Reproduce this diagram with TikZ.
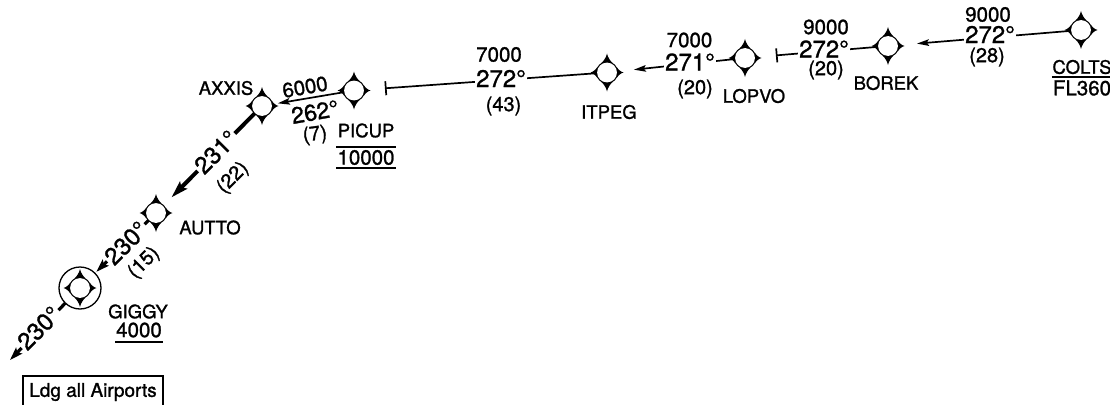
\documentclass[tikz,border=0pt]{standalone}
\usepackage{fontspec}
\setmainfont{TeX Gyre Heros}[FakeBold=1.2]
\usetikzlibrary{arrows.meta}
\begin{document}
\begin{tikzpicture}[x=1pt,y=-1pt,
  fix/.style={circle,inner sep=0pt,minimum size=20pt},
  leg/.style={line width=1.7pt},
  legarrow/.style={leg,-{Stealth[length=12pt,width=6.5pt,inset=2pt]}},
  legbar/.style={leg,-{Bar[width=14pt]}},
  heavy/.style={line width=4pt,-{Stealth[length=17pt,width=10pt,inset=3pt]}},
  medium/.style={line width=3.2pt,-{Stealth[length=13pt,width=8.5pt,inset=2.5pt]}},
  fixname/.style={font=\fontsize{18.5}{20}\selectfont,inner sep=0pt},
  alt/.style={font=\fontsize{20.5}{22}\selectfont,inner sep=0pt},
  crs/.style={font=\fontsize{24}{26}\selectfont,inner sep=1.5pt,fill=white},
  crsplain/.style={font=\fontsize{23}{25}\selectfont,inner sep=0pt},
  dist/.style={font=\fontsize{20}{22}\selectfont,inner sep=0pt},
  altbar/.style={line width=1.4pt},
  notebox/.style={draw,line width=1.3pt,font=\fontsize{19}{21}\selectfont,
    minimum width=140pt,minimum height=32pt,inner sep=0pt},
]
\useasboundingbox (0,0) rectangle (1110,404);

% fixes
\node[fix] (COLTS) at (1081,30) {};
\node[fix] (BOREK) at (888,46) {};
\node[fix] (LOPVO) at (745,58) {};
\node[fix] (ITPEG) at (607,72.5) {};
\node[fix] (PICUP) at (354,90.5) {};
\node[fix] (AXXIS) at (262,106) {};
\node[fix] (AUTTO) at (156,213) {};
\node[fix] (GIGGY) at (80,288) {};
\coordinate (exit) at (10,360);

% legs
\draw[legarrow, shorten >=29pt] (COLTS.center) -- (BOREK.center);
\draw[legbar, shorten >=31pt] (BOREK.center) -- (LOPVO.center);
\draw[legarrow, shorten >=27pt] (LOPVO.center) -- (ITPEG.center);
\draw[legbar, shorten >=31pt] (ITPEG.center) -- (PICUP.center);
\draw[legarrow, shorten >=16pt] (PICUP.center) -- (AXXIS.center);
\draw[heavy, shorten >=22pt] (AXXIS.center) -- (AUTTO.center);
\draw[medium, shorten >=23pt] (AUTTO.center) -- (GIGGY.center);
\draw[medium] (GIGGY.center) -- (exit);

% leg labels
\node[alt]  (a1) at (988,14.5) {9000};
\node[crs]  (c1) at (990,34.5) {272°};
\node[dist] (d1) at (987,57) {(28)};

\node[alt]  (a2) at (826,27) {9000};
\node[crs]  (c2) at (824,49) {272°};
\node[dist] (d2) at (826,70) {(20)};

\node[alt]  (a3) at (689.5,40) {7000};
\node[crs]  (c3) at (690,62) {271°};
\node[dist] (d3) at (695,89) {(20)};

\node[alt]  (a4) at (499,54.5) {7000};
\node[crs]  (c4) at (501,78.5) {272°};
\node[dist] (d4) at (503.5,106) {(43)};

\node[alt,rotate=10]      (a5) at (305,87) {6000};
\node[crsplain,rotate=10] (c5) at (315,112) {262°};
\node[dist,rotate=8]      (d5) at (315,135) {(7)};

\node[crs,rotate=45]  (c6) at (216,152) {231°};
\node[dist,rotate=45] (d6) at (233,178) {(22)};

\node[crs,rotate=45]  (c7) at (126,243) {230°};
\node[dist,rotate=45] (d7) at (144,263) {(15)};

\node[crs,rotate=45]  (c8) at (39,328) {230°};

% fix names and altitudes
\node[fixname] (COLTSn) at (1082,67) {COLTS};
\node[alt] (COLTSa) at (1082,88) {FL360};
\draw[altbar] ([xshift=-1pt,yshift=3.3pt]COLTSa.north west) -- ([xshift=1pt,yshift=3.3pt]COLTSa.north east);

\node[fixname] (BOREKn) at (886,83) {BOREK};
\node[fixname] (LOPVOn) at (754,96) {LOPVO};
\node[fixname] (ITPEGn) at (609,112) {ITPEG};

\node[fixname] (PICUPn) at (366,130.5) {PICUP};
\node[alt] (PICUPa) at (366,157.5) {10000};
\draw[altbar] ([xshift=-1pt,yshift=3pt]PICUPa.north west) -- ([xshift=1pt,yshift=3pt]PICUPa.north east);
\draw[altbar] ([xshift=-1pt,yshift=-2.8pt]PICUPa.south west) -- ([xshift=1pt,yshift=-2.8pt]PICUPa.south east);

\node[fixname] (AXXISn) at (226,88) {AXXIS};
\node[fixname] (AUTTOn) at (210,227.5) {AUTTO};

\node[fixname] (GIGGYn) at (138,311.5) {GIGGY};
\node[alt] (GIGGYa) at (139,330) {4000};
\draw[altbar] ([xshift=-1pt,yshift=-4.5pt]GIGGYa.south west) -- ([xshift=1pt,yshift=-4.5pt]GIGGYa.south east);

\node[notebox] (note) at (93,392) {Ldg all Airports};

% GIGGY ring
\draw[line width=1.3pt,fill=white] (GIGGY.center) circle[radius=21];

% waypoint symbols: thin ring with four concave spikes
\foreach \n in {COLTS,BOREK,LOPVO,ITPEG,PICUP,AXXIS,AUTTO,GIGGY}{
  \begin{scope}[shift={(\n.center)}]
    \fill[black] (0,0) circle[radius=11.1];
    \fill[black] (16.5,0) .. controls (13.5,0.6) and (10.8,3.7) .. (9.6,5.55)
      -- (9.6,-5.55) .. controls (10.8,-3.7) and (13.5,-0.6) .. (16.5,0) -- cycle;
    \fill[black] (-16.5,0) .. controls (-13.5,0.6) and (-10.8,3.7) .. (-9.6,5.55)
      -- (-9.6,-5.55) .. controls (-10.8,-3.7) and (-13.5,-0.6) .. (-16.5,0) -- cycle;
    \fill[black] (0,19) .. controls (0.6,15.5) and (3.7,10.8) .. (5.55,9.6)
      -- (-5.55,9.6) .. controls (-3.7,10.8) and (-0.6,15.5) .. (0,19) -- cycle;
    \fill[black] (0,-19) .. controls (0.6,-15.5) and (3.7,-10.8) .. (5.55,-9.6)
      -- (-5.55,-9.6) .. controls (-3.7,-10.8) and (-0.6,-15.5) .. (0,-19) -- cycle;
    \fill[white] (0,0) circle[radius=9.9];
  \end{scope}
}
\end{tikzpicture}
\end{document}
